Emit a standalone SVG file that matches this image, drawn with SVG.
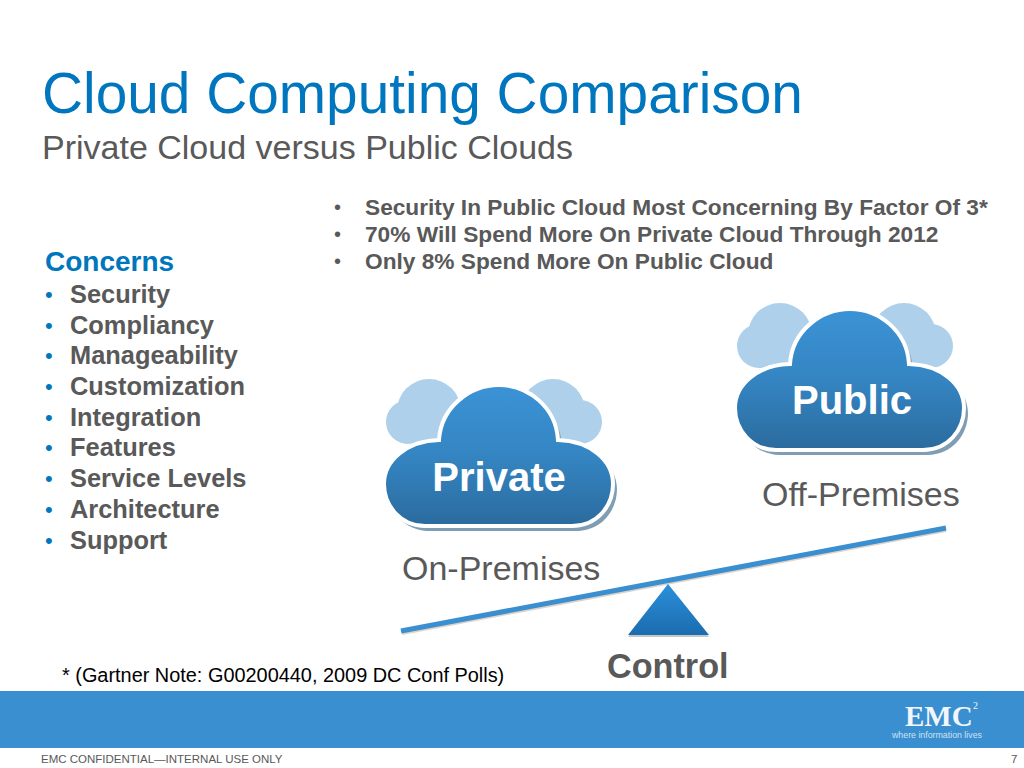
<svg xmlns="http://www.w3.org/2000/svg" xmlns:xlink="http://www.w3.org/1999/xlink" width="1024" height="768" viewBox="0 0 1024 768">
<style>
text{font-family:"Liberation Sans",Arial,sans-serif}
.t{font-size:22.7px;font-weight:700;fill:#595959}
.b{font-size:20px;fill:#595959}
.l{font-size:25.4px;font-weight:700;fill:#595959}
.lb{font-size:22px;fill:#0076be}
.s{font-size:34px;fill:#595959}
.c{font-size:40px;font-weight:700;fill:#fff;text-anchor:middle}
.e{font-family:"Liberation Serif",serif;fill:#f2f6fa}
</style>
<defs>
<linearGradient id="cg" x1="0" y1="0" x2="0" y2="1"><stop offset="0" stop-color="#3b93d6"/><stop offset="0.5" stop-color="#3485c2"/><stop offset="1" stop-color="#2b6b9e"/></linearGradient>
<linearGradient id="tg" x1="0" y1="0" x2="0" y2="1"><stop offset="0" stop-color="#2a90dc"/><stop offset="1" stop-color="#1c6cae"/></linearGradient>
<path id="cp" d="M425 526L572 526C597 526 613 506 613 484C613 460 590 441 558 440C556 407 528 385 499 385C470 385 441 407 439 440C407 441 384 460 384 484C384 506 401 526 425 526Z"/>
<g id="cloud">
<g fill="#aed0ea"><circle cx="408" cy="422" r="22"/><circle cx="429" cy="411" r="32"/><circle cx="580" cy="422" r="22"/><circle cx="553" cy="411" r="32"/></g>
<use xlink:href="#cp" href="#cp" transform="translate(4 5)" fill="#7f9db3"/>
<use xlink:href="#cp" href="#cp" fill="url(#cg)" stroke="#fff" stroke-width="4"/>
</g>
</defs>
<rect width="1024" height="768" fill="#fff"/>
<g id="title">
<text x="42" y="113" font-size="56.8" fill="#0076be">Cloud Computing Comparison</text>
<text x="42" y="159" font-size="34" fill="#595959">Private Cloud versus Public Clouds</text>
</g>
<g id="findings">
<text x="334" y="214" class="b">•</text><text x="365" y="215" class="t">Security In Public Cloud Most Concerning By Factor Of 3*</text>
<text x="334" y="241" class="b">•</text><text x="365" y="242" class="t">70% Will Spend More On Private Cloud Through 2012</text>
<text x="334" y="268" class="b">•</text><text x="365" y="269" class="t">Only 8% Spend More On Public Cloud</text>
</g>
<g id="concerns">
<text x="45" y="271" font-size="28" font-weight="700" fill="#0076be">Concerns</text>
<g class="lb"><text x="45" y="302">•</text><text x="45" y="333">•</text><text x="45" y="363">•</text><text x="45" y="394">•</text><text x="45" y="425">•</text><text x="45" y="455">•</text><text x="45" y="486">•</text><text x="45" y="517">•</text><text x="45" y="548">•</text></g>
<g class="l"><text x="70" y="303">Security</text><text x="70" y="334">Compliancy</text><text x="70" y="364">Manageability</text><text x="70" y="395">Customization</text><text x="70" y="426">Integration</text><text x="70" y="456">Features</text><text x="70" y="487">Service Levels</text><text x="70" y="518">Architecture</text><text x="70" y="549">Support</text></g>
</g>
<g id="private"><use xlink:href="#cloud" href="#cloud"/><text x="499" y="491" class="c">Private</text></g>
<g id="public"><use xlink:href="#cloud" href="#cloud" transform="translate(351 -76)"/><text x="852" y="414" class="c">Public</text></g>
<text x="402" y="580" class="s">On-Premises</text>
<text x="762" y="506" class="s">Off-Premises</text>
<g id="balance">
<path d="M402 633L946 530" stroke="#c9b5a5" stroke-width="4" fill="none" opacity=".6"/>
<path d="M401 631L946 528" stroke="#3a8fd0" stroke-width="5" fill="none"/>
<path d="M628 637L709 637L668 585Z" fill="#8f8f8f" opacity=".5"/>
<path d="M628 635L709 635L668 584Z" fill="url(#tg)"/>
</g>
<text x="607" y="678" font-size="34.2" font-weight="700" fill="#595959">Control</text>
<text x="62" y="682" font-size="19.9" fill="#000">* (Gartner Note: G00200440, 2009 DC Conf Polls)</text>
<g id="footer">
<rect x="0" y="691" width="1024" height="57" fill="#3a8fd0"/>
<text x="905" y="726" font-size="29" font-weight="700" class="e">EMC</text>
<text x="973" y="709" font-size="10" class="e">2</text>
<text x="892" y="738" font-size="8.8" fill="#cfe2f2">where information lives</text>
<text x="41" y="763" font-size="11.5" fill="#595959">EMC CONFIDENTIAL—INTERNAL USE ONLY</text>
<text x="1011" y="763" font-size="11.5" fill="#595959">7</text>
</g>
</svg>
